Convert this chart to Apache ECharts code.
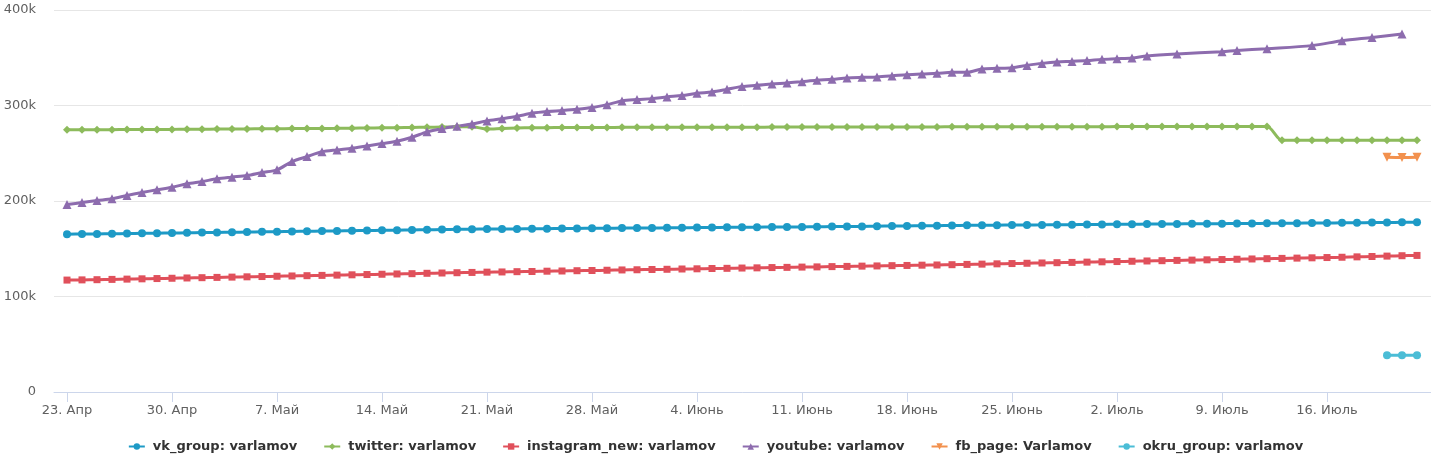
<!DOCTYPE html>
<html>
<head>
<meta charset="utf-8">
<script src="https://cdn.jsdelivr.net/npm/echarts@6/dist/echarts.min.js"></script>
<style>
html,body{margin:0;padding:0;background:#fff;}
#chart{width:1431px;height:461px;}
</style>
</head>
<body>
<div id="chart"></div>
<script>
// x = day index, day 0 = 23 Apr, day 90 = 22 Jul
const tickDays = [0, 7, 14, 21, 28, 35, 42, 49, 56, 63, 70, 77, 84];
const tickLabels = ['23. Апр', '30. Апр', '7. Май', '14. Май', '21. Май', '28. Май', '4. Июнь', '11. Июнь', '18. Июнь', '25. Июнь', '2. Июль', '9. Июль', '16. Июль'];
const seriesNames = ['vk_group: varlamov', 'twitter: varlamov', 'instagram_new: varlamov', 'youtube: varlamov', 'fb_page: Varlamov', 'okru_group: varlamov'];

const vkGroup = [165300,165400,165500,165700,165900,166100,166300,166500,166700,166900,
 167100,167300,167500,167700,167900,168100,168300,168500,168700,168900,
 169100,169300,169500,169700,169900,170100,170300,170500,170600,170700,
 170800,170900,171000,171200,171300,171400,171500,171600,171700,171800,
 171900,172000,172200,172300,172400,172500,172600,172700,172800,172900,
 173000,173200,173300,173400,173600,173800,173900,174100,174200,174400,
 174500,174600,174700,174800,174900,175000,175100,175200,175400,175500,
 175600,175700,175800,175900,176000,176100,176200,176300,176400,176500,
 176600,176700,176800,176900,177000,177100,177200,177400,177500,177700,177800];

const twitter = [274500,274500,274600,274700,274800,274900,275000,275000,275100,275200,
 275300,275400,275500,275600,275700,275800,275900,276000,276100,276300,
 276400,276600,276800,277000,277200,277400,277600,277800,275400,276000,
 276500,276700,276800,276900,277000,277000,277000,277100,277100,277100,
 277200,277200,277200,277300,277300,277300,277300,277400,277400,277400,
 277400,277500,277500,277500,277500,277600,277600,277600,277600,277700,
 277700,277700,277700,277700,277800,277800,277800,277800,277800,277800,
 277900,277900,277900,277900,277900,277900,277900,277900,277900,277900,
 277900,263500,263500,263500,263500,263500,263500,263500,263500,263500,263500];

const instagram = [117200,117400,117600,117900,118200,118500,118800,119100,119400,119700,
 120000,120300,120600,120900,121200,121500,121800,122100,122400,122700,
 123000,123300,123600,123900,124300,124600,124900,125200,125500,125700,
 126000,126200,126500,126700,127000,127200,127500,127800,128000,128300,
 128500,128800,129000,129300,129500,129800,130000,130300,130500,130800,
 131000,131300,131500,131800,132000,132300,132500,132800,133000,133300,
 133600,133900,134200,134500,134800,135100,135400,135700,136000,136300,
 136600,136900,137200,137500,137800,138100,138400,138700,139000,139300,
 139600,139900,140200,140500,140800,141100,141500,141900,142300,142700,143000];

const youtube = [196300,198400,200500,202300,205800,208900,211700,214400,218000,220400,
 223200,225000,226700,229800,232600,241300,246500,251500,253500,255200,
 257700,260100,262600,266700,272400,275800,278300,280700,283900,286200,
 288700,291800,293600,294700,296000,297800,300900,304800,306200,307200,
 309000,310400,312800,314200,316900,319800,321100,322600,323600,325000,
 326400,327400,328900,329500,329900,331000,332300,333100,333700,334700,
 334700,338300,338900,339600,342000,344100,345600,346200,347000,348300,
 349000,349800,351900,null,354000,null,null,356400,357700,null,
 359500,null,null,362700,null,367900,null,371300,null,374900,null];

const fbStartDay = 88;
const fbPage = [245800, 245600, 245800];
const okruStartDay = 88;
const okruGroup = [38400, 38500, 38600];

function pairs(arr, start) {
  return arr.map((v, i) => [start + i, v]);
}

const colors = ['#1d9ac6', '#8dbb5c', '#e0505b', '#8d6cae', '#f2914e', '#4bbdd6'];
const symbols = ['circle', 'diamond', 'rect', 'triangle', 'path://M0,0 L10,0 L5,9 Z', 'circle'];
const sizes = [8, 8, 7, 9, 9, 8];
const datas = [pairs(vkGroup, 0), pairs(twitter, 0), pairs(instagram, 0), pairs(youtube, 0), pairs(fbPage, fbStartDay), pairs(okruGroup, okruStartDay)];

const chart = echarts.init(document.getElementById('chart'), null, {renderer: 'canvas'});
chart.setOption({
  animation: false,
  color: colors,
  grid: {left: 54, right: 0, top: 10, bottom: 69, containLabel: false},
  xAxis: {
    type: 'value',
    min: -0.8667,
    max: 90.933,
    splitLine: {show: false},
    axisLine: {show: true, lineStyle: {color: '#ccd6eb', width: 1}},
    axisTick: {show: true, length: 10, lineStyle: {color: '#ccd6eb'}, customValues: tickDays},
    axisLabel: {
      customValues: tickDays,
      margin: 12,
      color: '#606060',
      fontFamily: 'DejaVu Sans',
      fontSize: 13,
      formatter: function (v) { return tickLabels[tickDays.indexOf(Math.round(v))] || ''; }
    }
  },
  yAxis: {
    type: 'value',
    min: 0,
    max: 400000,
    interval: 100000,
    axisLine: {show: false},
    axisTick: {show: false},
    splitLine: {lineStyle: {color: '#e6e6e6', width: 1}},
    axisLabel: {
      margin: 18,
      color: '#606060',
      fontFamily: 'DejaVu Sans',
      fontSize: 13,
      formatter: function (v) { return v === 0 ? '0' : (v / 1000) + 'k'; }
    }
  },
  legend: {
    top: 435,
    left: 'center',
    itemGap: 26,
    itemWidth: 16,
    itemHeight: 8,
    textStyle: {fontFamily: 'DejaVu Sans', fontSize: 13, fontWeight: 'bold', color: '#333333', padding: [0, 0, 0, 3]},
    data: seriesNames
  },
  series: seriesNames.map((name, i) => ({
    name: name,
    type: 'line',
    data: datas[i],
    smooth: 0.3,
    connectNulls: true,
    symbol: symbols[i],
    symbolSize: sizes[i],
    showSymbol: true,
    lineStyle: {width: 3, color: colors[i]},
    itemStyle: {color: colors[i]},
    emphasis: {disabled: true}
  }))
});
</script>
</body>
</html>
